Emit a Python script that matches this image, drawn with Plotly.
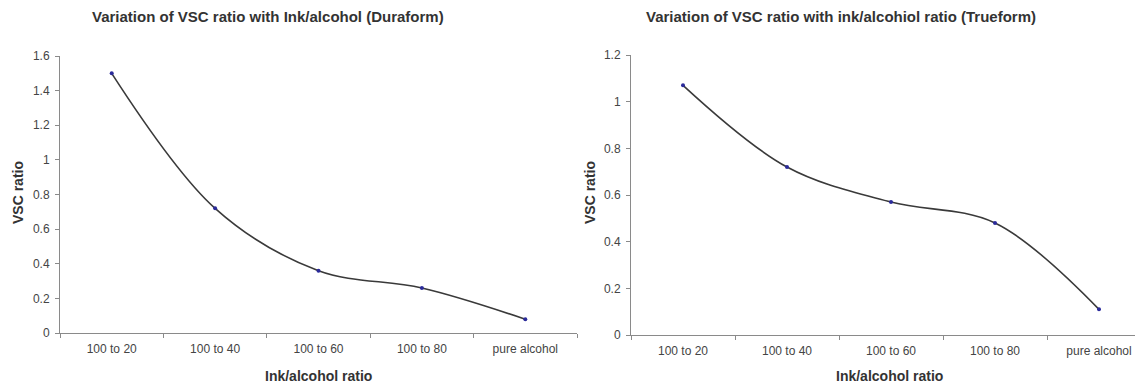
import plotly.graph_objects as go

categories = ["100 to 20", "100 to 40", "100 to 60", "100 to 80", "pure alcohol"]
duraform_vsc = [1.50, 0.72, 0.36, 0.26, 0.08]
trueform_vsc = [1.07, 0.72, 0.57, 0.48, 0.11]

left_title = "Variation of VSC ratio with Ink/alcohol (Duraform)"
right_title = "Variation of VSC ratio with ink/alcohiol ratio (Trueform)"
x_title = "Ink/alcohol ratio"
y_title = "VSC ratio"

# the page has an 8px default body margin; the figure fills the rest of the window
OFF = 8
W, H = 1135, 377
font_family = "Liberation Sans, Arial, sans-serif"

fig = go.Figure()
line_style = dict(color="#3a3a3a", width=1.6, shape="spline", smoothing=1.0)
marker_style = dict(color="#2a2a9a", size=4)

fig.add_trace(go.Scatter(x=categories, y=duraform_vsc, mode="lines+markers",
                         line=line_style, marker=marker_style, xaxis="x", yaxis="y",
                         showlegend=False))
fig.add_trace(go.Scatter(x=categories, y=trueform_vsc, mode="lines+markers",
                         line=line_style, marker=marker_style, xaxis="x2", yaxis="y2",
                         showlegend=False))

axis_common = dict(showgrid=False, zeroline=False, showline=True, linecolor="#8a8a8a",
                   linewidth=1, ticks="outside", ticklen=4, tickcolor="#8a8a8a",
                   automargin=False,
                   tickfont=dict(family=font_family, size=12, color="#444"))

def px_x(p):
    return min(1.0, (p - OFF) / W)

def px_y(p):
    return 1 - (p - OFF) / H

right_range_max = -0.5 + (W + OFF - 631) / 104.0

fig.update_layout(
    width=W, height=H,
    margin=dict(l=0, r=0, t=0, b=0, autoexpand=False),
    paper_bgcolor="white", plot_bgcolor="white",
    font=dict(family=font_family, color="#333"),
    xaxis=dict(domain=[px_x(60), px_x(577)], anchor="y", type="category",
               range=[-0.5, 4.5], tickson="boundaries", ticklabelstandoff=5, **axis_common),
    yaxis=dict(domain=[px_y(333), px_y(56)], anchor="x", range=[0, 1.6],
               tickvals=[0, 0.2, 0.4, 0.6, 0.8, 1, 1.2, 1.4, 1.6],
               ticktext=["0", "0.2", "0.4", "0.6", "0.8", "1", "1.2", "1.4", "1.6"],
               ticklabelstandoff=3, **axis_common),
    xaxis2=dict(domain=[px_x(631), 1.0], anchor="y2", type="category",
                range=[-0.5, right_range_max], tickson="boundaries", ticklabelstandoff=5,
                **axis_common),
    yaxis2=dict(domain=[px_y(335), px_y(55)], anchor="x2", range=[0, 1.2],
                tickvals=[0, 0.2, 0.4, 0.6, 0.8, 1, 1.2],
                ticktext=["0", "0.2", "0.4", "0.6", "0.8", "1", "1.2"],
                ticklabelstandoff=3, **axis_common),
)

title_font = dict(family=font_family, size=15, color="#333")
label_font = dict(family=font_family, size=14, color="#333")
annotations = [
    dict(text="<b>" + left_title + "</b>", x=px_x(268), y=px_y(17), xref="paper", yref="paper",
         showarrow=False, font=title_font, xanchor="center", yanchor="middle"),
    dict(text="<b>" + right_title + "</b>", x=px_x(841), y=px_y(17), xref="paper", yref="paper",
         showarrow=False, font=title_font, xanchor="center", yanchor="middle"),
    dict(text="<b>" + x_title + "</b>", x=px_x(318), y=px_y(376), xref="paper", yref="paper",
         showarrow=False, font=label_font, xanchor="center", yanchor="middle"),
    dict(text="<b>" + x_title + "</b>", x=px_x(889), y=px_y(376), xref="paper", yref="paper",
         showarrow=False, font=label_font, xanchor="center", yanchor="middle"),
    dict(text="<b>" + y_title + "</b>", x=px_x(18), y=px_y(193), xref="paper", yref="paper",
         showarrow=False, font=label_font, textangle=-90, xanchor="center", yanchor="middle"),
    dict(text="<b>" + y_title + "</b>", x=px_x(590), y=px_y(193), xref="paper", yref="paper",
         showarrow=False, font=label_font, textangle=-90, xanchor="center", yanchor="middle"),
]
fig.update_layout(annotations=annotations)

fig.write_html("out.html")
